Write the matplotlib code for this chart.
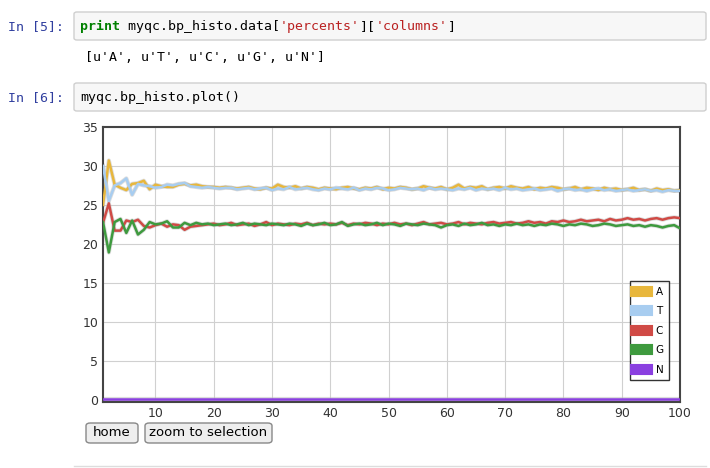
import matplotlib.pyplot as plt
from matplotlib.patches import FancyBboxPatch

W, H = 710, 468

pos = list(range(1, 101))
pct_A = [25.0, 30.7, 27.6, 27.2, 26.9, 27.7, 27.8, 28.1, 27.0, 27.6,
         27.4, 27.3, 27.3, 27.6, 27.7, 27.5, 27.6, 27.4, 27.3, 27.3,
         27.2, 27.3, 27.2, 27.1, 27.2, 27.3, 27.1, 27.0, 27.2, 27.1,
         27.6, 27.3, 27.2, 27.4, 27.1, 27.3, 27.2, 27.0, 27.2, 27.1,
         27.0, 27.2, 27.3, 27.1, 27.0, 27.2, 27.1, 27.3, 27.0, 27.2,
         27.1, 27.3, 27.2, 27.0, 27.1, 27.4, 27.2, 27.1, 27.3, 27.0,
         27.2, 27.6, 27.1, 27.3, 27.2, 27.4, 27.0, 27.2, 27.3, 27.1,
         27.4, 27.2, 27.1, 27.3, 27.0, 27.2, 27.1, 27.3, 27.2, 27.0,
         27.1, 27.3, 27.0, 27.2, 27.1, 26.9, 27.2, 27.0, 27.1, 26.9,
         27.0, 27.2, 26.9, 27.0, 26.8, 27.1, 26.9, 27.0, 26.8, 26.9]
pct_T = [30.0, 25.5, 27.5, 27.8, 28.4, 26.3, 27.7, 27.5, 27.4, 27.2,
         27.3, 27.6, 27.5, 27.7, 27.8, 27.4, 27.3, 27.2, 27.3, 27.2,
         27.1, 27.2, 27.2, 27.0, 27.1, 27.2, 27.0, 27.1, 27.2, 26.9,
         27.1, 27.0, 27.3, 27.0, 27.1, 27.2, 27.0, 26.9, 27.1, 27.0,
         27.2, 27.1, 27.0, 27.2, 26.9, 27.1, 27.0, 27.2, 27.1, 26.9,
         27.0, 27.2, 27.1, 27.0, 27.1, 26.9, 27.2, 27.0, 27.1, 27.0,
         26.9, 27.1, 27.0, 27.2, 26.9, 27.1, 27.0, 27.1, 26.9, 27.2,
         27.0, 27.1, 26.9, 27.0, 27.1, 26.9, 27.0, 27.1, 26.8, 27.0,
         27.1, 26.9, 27.0, 26.8, 27.0, 27.1, 26.9, 27.0, 26.8, 26.9,
         27.0, 26.8, 26.9, 27.0, 26.8, 26.9, 26.7, 26.9, 26.8, 26.8]
pct_C = [22.7, 25.2, 21.7, 21.7, 23.0, 22.8, 23.1, 22.3, 22.1, 22.4,
         22.6, 22.2, 22.5, 22.4, 21.8, 22.2, 22.3, 22.4, 22.5, 22.6,
         22.4, 22.5, 22.7, 22.4, 22.5, 22.6, 22.3, 22.5, 22.8, 22.4,
         22.6, 22.5, 22.4, 22.6, 22.5, 22.7, 22.4, 22.6, 22.5, 22.6,
         22.5, 22.7, 22.4, 22.6, 22.5, 22.7, 22.6, 22.4, 22.6, 22.5,
         22.7, 22.5, 22.6, 22.4, 22.6, 22.8, 22.5, 22.6, 22.7, 22.5,
         22.6, 22.8, 22.5, 22.7, 22.6, 22.5, 22.7, 22.8, 22.6, 22.7,
         22.8, 22.6, 22.7, 22.9, 22.7, 22.8, 22.6, 22.9, 22.8, 23.0,
         22.8, 22.9, 23.1, 22.9, 23.0, 23.1, 22.9, 23.2, 23.0, 23.1,
         23.3, 23.1, 23.2, 23.0, 23.2, 23.3, 23.1, 23.3, 23.4, 23.3]
pct_G = [22.8, 18.9, 22.8, 23.2, 21.4, 23.0, 21.2, 21.8, 22.8, 22.5,
         22.6, 22.9, 22.1, 22.1, 22.7, 22.4, 22.7, 22.5, 22.6, 22.4,
         22.5, 22.6, 22.4, 22.5, 22.7, 22.4, 22.6, 22.5, 22.4, 22.6,
         22.5, 22.4, 22.6, 22.5, 22.3, 22.6, 22.4, 22.5, 22.7, 22.4,
         22.5, 22.8, 22.3, 22.5, 22.6, 22.4, 22.5, 22.7, 22.4, 22.6,
         22.5, 22.3, 22.6, 22.5, 22.4, 22.6, 22.5, 22.4, 22.1, 22.4,
         22.5, 22.3, 22.6, 22.4, 22.5, 22.7, 22.4, 22.5, 22.3, 22.5,
         22.4, 22.6, 22.4, 22.5, 22.3, 22.5, 22.4, 22.6, 22.5, 22.3,
         22.5, 22.4, 22.6, 22.5, 22.3, 22.4, 22.6, 22.5, 22.3, 22.4,
         22.5, 22.3, 22.4, 22.2, 22.4, 22.3, 22.1, 22.3, 22.4, 22.0]
pct_N = [0.1] * 100

series = [("A", pct_A, "#e8b73c"), ("T", pct_T, "#a8cdf0"),
          ("C", pct_C, "#d04a45"), ("G", pct_G, "#3e9a3e"),
          ("N", pct_N, "#8a3fe0")]

fig = plt.figure(figsize=(W / 100, H / 100), dpi=100)
fig.patch.set_facecolor("white")

def fx(px):
    return px / W

def fy(py):
    return 1 - py / H

# notebook cells
mono = "DejaVu Sans Mono"
for top, bot in [(12, 40), (83, 111)]:
    fig.patches.append(FancyBboxPatch((fx(74), fy(bot)), fx(632), (bot - top) / H,
                                      boxstyle="round,pad=0,rounding_size=0.004",
                                      transform=fig.transFigure, fc="#f7f7f7",
                                      ec="#cfcfcf", lw=1))
fig.text(fx(8), fy(30), "In [5]:", family=mono, fontsize=9.5, color="#303f9f", va="baseline")
fig.text(fx(8), fy(101), "In [6]:", family=mono, fontsize=9.5, color="#303f9f", va="baseline")
parts = [("print", "#008000", "bold"), (" myqc.bp_histo.data[", "#000000", "normal"),
         ("'percents'", "#ba2121", "normal"), ("][", "#000000", "normal"),
         ("'columns'", "#ba2121", "normal"), ("]", "#000000", "normal")]
prev = fig.text(fx(80), fy(30), parts[0][0], family=mono, fontsize=9.5,
                color=parts[0][1], weight=parts[0][2], va="baseline")
for s, c, w in parts[1:]:
    prev = fig.text(0, 0, s, family=mono, fontsize=9.5, color=c, weight=w,
                    va="baseline")
    prev.set_position((1, 0))
    prev.set_transform(fig.transFigure)
    prev._chain = True
# chain properly with annotate
for t in fig.texts[3:]:
    t.remove()
prev = fig.texts[2]
for s, c, w in parts[1:]:
    prev = fig.add_artist(plt.Annotation(s, xy=(1, 0), xycoords=prev, family=mono,
                                         fontsize=9.5, color=c, weight=w,
                                         va="bottom", ha="left"))
fig.text(fx(85), fy(61), "[u'A', u'T', u'C', u'G', u'N']", family=mono, fontsize=9.5, va="baseline")
fig.text(fx(80), fy(101), "myqc.bp_histo.plot()", family=mono, fontsize=9.5, va="baseline")

# chart
ax = fig.add_axes([fx(103), fy(402), fx(680 - 103), (402 - 127) / H])
for name, vals, col in series:
    ax.plot(pos, vals, color="#bbbbbb", lw=3, alpha=0.5, zorder=2)
    ax.plot(pos, vals, color=col, lw=1.8, label=name, zorder=3)
ax.set_xlim(1, 100)
ax.set_ylim(-0.3, 35)
ax.set_yticks(range(0, 36, 5))
ax.set_xticks(range(10, 101, 10))
ax.grid(color="#d0d0d0", lw=0.8)
ax.tick_params(length=0, labelsize=9, colors="#333333")
for sp in ax.spines.values():
    sp.set_color("#444444")
    sp.set_linewidth(1.5)

leg = ax.legend(loc="lower right", bbox_to_anchor=(0.99, 0.06), fontsize=7.5,
                handlelength=1.2, handleheight=1.0, fancybox=False,
                edgecolor="black", labelspacing=0.9, borderpad=0.5)
for h in leg.legend_handles:
    h.set_linewidth(8)

# buttons
for x0, x1, label in [(86, 138, "home"), (145, 272, "zoom to selection")]:
    fig.patches.append(FancyBboxPatch((fx(x0), fy(443)), fx(x1 - x0), 20 / H,
                                      boxstyle="round,pad=0,rounding_size=0.006",
                                      transform=fig.transFigure, fc="#eeeeee",
                                      ec="#888888", lw=1))
    fig.text(fx((x0 + x1) / 2), fy(433), label, ha="center", va="center", fontsize=9.5)
fig.add_artist(plt.Line2D([fx(74), fx(706)], [fy(466), fy(466)], color="#dddddd",
                          lw=1, transform=fig.transFigure))

fig.savefig("out.png", dpi=100)
